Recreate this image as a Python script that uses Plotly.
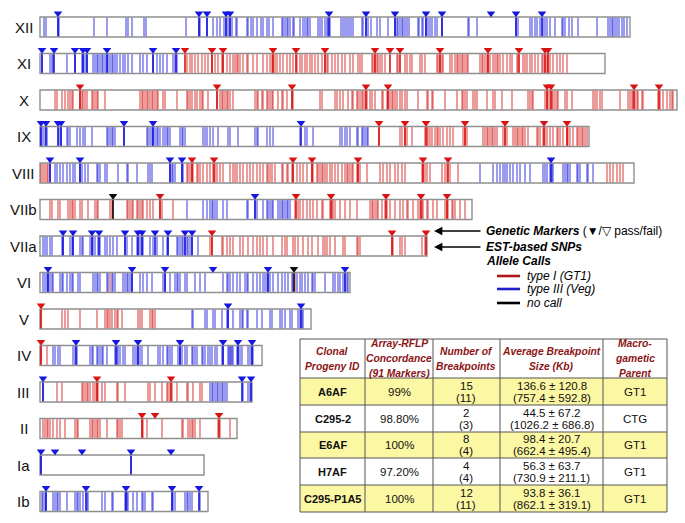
import plotly.graph_objects as go

# ---------------- data ----------------
# chromosome names (top to bottom) and lengths in map units (1 unit ~ 11.6 kb)
chrom_names = ["XII", "XI", "X", "IX", "VIII", "VIIb", "VIIa", "VI", "V", "IV", "III", "II", "Ia", "Ib"]
chrom_lengths = [590, 565, 637, 549, 594, 432, 387, 310, 271, 222, 212, 197, 164, 168]

# allele-call segments: (start position, call) ; call "I" = type I (GT1), "III" = type III (Veg)
XII_segments = [(0, "III")]
XI_segments = [(0, "III"), (145, "I")]
X_segments = [(0, "I")]
IX_segments = [(0, "III"), (334, "I")]
VIII_segments = [(0, "I"), (9, "III"), (145, "I"), (430, "III"), (560, "I")]
VIIb_segments = [(0, "I"), (140, "III"), (252, "I")]
VIIa_segments = [(0, "III"), (162, "I")]
VI_segments = [(0, "III"), (69, "I"), (71, "III"), (254, "I"), (256, "III")]
V_segments = [(0, "I"), (140, "III")]
IV_segments = [(0, "I"), (10, "III")]
III_segments = [(0, "III"), (10, "I"), (165, "III")]
II_segments = [(0, "I")]
Ia_segments = [(0, "III")]
Ib_segments = [(0, "III")]

# EST-based SNP positions
XII_snps = [4, 6, 18, 19, 54, 67, 86, 88, 92, 104, 106, 146, 159, 160, 167, 173, 177, 180, 184, 186, 188, 190, 192,
            196, 197, 207, 208, 211, 213, 217, 221, 223, 227, 229, 233, 242, 243, 245, 247, 248, 250, 253, 254, 260,
            263, 265, 267, 268, 270, 278, 280, 282, 285, 287, 288, 290, 301, 303, 305, 307, 309, 311, 313, 322, 323,
            326, 328, 331, 337, 340, 348, 355, 357, 358, 360, 362, 363, 365, 367, 369, 378, 379, 382, 383, 386, 388,
            390, 392, 395, 397, 402, 428, 429, 437, 476, 478, 490, 492, 495, 497, 500, 503, 505, 507, 510, 515, 522,
            523, 525, 529, 532, 538, 557, 568, 570, 572, 573, 575, 577, 579, 582, 584, 587]
XI_snps = [2, 10, 12, 13, 27, 35, 42, 43, 45, 47, 53, 55, 57, 58, 60, 62, 63, 65, 67, 68, 70, 72, 73, 75, 77, 80, 83,
           85, 88, 92, 100, 103, 107, 113, 117, 120, 123, 127, 133, 135, 137,
           147, 150, 152, 155, 158, 162, 165, 168, 172, 175, 178, 182, 183, 187, 190, 193, 195, 197, 198, 200, 203,
           207, 208, 213, 217, 223, 227, 230, 232, 233, 235, 237, 240, 243, 247, 250, 253, 257, 260, 262, 265, 267,
           270, 272, 275, 278, 282, 285, 287, 288, 292, 295, 298, 302, 305, 310, 313, 318, 320, 322, 332, 333, 335,
           337, 338, 340, 342, 345, 357, 358, 365, 367, 370, 372, 380, 382, 385, 397, 398, 400, 402, 403, 410, 412,
           415, 417, 418, 420, 422, 423, 425, 427, 428, 440, 442, 443, 445, 447, 448, 450, 453, 455, 457, 458, 460,
           463, 467, 470, 472, 477, 478, 483, 485, 487, 490, 492, 495, 498, 502, 503, 505, 507, 508, 510, 513, 517,
           520, 523, 527]
X_snps = [15, 17, 22, 25, 28, 30, 32, 33, 40, 42, 43, 45, 47, 52, 53, 55, 57, 58, 65, 100, 102, 103, 105, 107, 108,
          110, 112, 113, 115, 117, 118, 123, 125, 137, 147, 148, 150, 152, 155, 157, 160, 162, 163, 168, 177, 180,
          182, 183, 185, 187, 188, 190, 193, 215, 217, 218, 222, 223, 227, 228, 230, 232, 233, 238, 242, 243, 247,
          252, 253, 280, 282, 295, 297, 300, 303, 308, 312, 313, 317, 318, 320, 322, 323, 325, 327, 330, 332, 335,
          342, 343, 347, 348, 350, 352, 353, 355, 357, 360, 362, 365, 367, 378, 387, 388, 392, 393, 405, 417, 422,
          423, 425, 427, 433, 435, 437, 447, 453, 455, 462, 472, 488, 490, 492, 493, 505, 507, 508, 510, 512, 513,
          515, 517, 518, 525, 527, 532, 553, 555, 557, 560, 562, 580, 588, 590, 592, 593, 595, 597, 598, 602, 603,
          618, 620, 623, 627, 630, 632, 633]
IX_snps = [1, 3, 5, 7, 19, 21, 27, 28, 30, 37, 40, 43, 45, 52, 67, 68, 70, 72, 73, 75, 84, 107, 108, 110, 112, 113,
           115, 117, 118, 120, 123, 125, 127, 128, 130, 140, 142, 143, 145, 163, 165, 167, 170, 173, 178, 188, 190,
           198, 215, 217, 218, 227, 230, 233, 260, 265, 267, 273, 300, 302, 305, 307, 310, 317, 318, 322, 323, 325,
           327, 328,
           339, 360, 362, 365, 367, 372, 385, 387, 388, 390, 392, 395, 397, 398, 400, 403, 407, 410, 413, 423, 425,
           427, 443, 445, 447, 448, 450, 452, 453, 455, 457, 463, 465, 467, 473, 475, 477, 478, 480, 482, 483, 485,
           488, 497, 498, 500, 503, 505, 507, 510, 513, 517, 518, 520, 523, 527, 528, 530, 533, 537, 538, 540, 542,
           543, 545, 547]
VIII_snps = [1, 3, 5, 7, 8,
             10, 15, 17, 20, 23, 27, 30, 33, 35, 40, 42, 45, 48, 57, 58, 60, 65, 67, 78, 87, 88, 97, 108, 110, 112,
             130, 132, 133, 135, 142, 143,
             147, 148, 150, 152, 153, 157, 158, 160, 163, 167, 170, 173, 175, 177, 180, 183, 190, 193, 195, 197, 200,
             203, 207, 210, 213, 217, 220, 223, 227, 228, 230, 232, 235, 242, 243, 247, 248, 252, 253, 257, 260, 263,
             267, 272, 273, 277, 278, 280, 282, 283, 285, 287, 290, 292, 295, 298, 302, 305, 307, 308, 310, 312, 313,
             317, 318, 320, 327, 340, 343, 347, 350, 355, 358, 362, 365, 382, 383, 385, 387, 390, 402, 405, 407, 410,
             418,
             440, 453, 457, 460, 463, 465, 467, 470, 473, 477, 480, 485, 490, 503, 505, 507, 510, 512, 513, 523, 525,
             527, 528, 530, 537, 538, 540, 547, 548, 553,
             567, 570, 573, 577, 580, 583]
VIIb_snps = [10, 12, 18, 20, 28, 30, 32, 33, 35, 40, 42, 48, 55, 57, 58, 70, 72, 73, 87, 88, 90, 92, 93, 97, 98, 100,
             102, 103, 107, 110, 113, 120, 122, 133,
             147, 163, 167, 170, 172, 173, 175, 177, 183, 187, 207, 208, 215, 217, 223, 227, 228, 230, 232, 233, 238,
             240, 242, 243, 245, 247, 248, 250,
             255, 258, 260, 263, 267, 270, 273, 277, 282, 283, 290, 292, 293, 295, 300, 305, 310, 317, 330, 332, 333,
             335, 337, 338, 342, 345, 347, 350, 355, 360, 363, 367, 368, 373, 378, 380, 382, 383, 387, 388, 393, 397,
             405, 407, 408, 412, 413, 415, 420, 425]
VIIa_snps = [3, 5, 7, 10, 12, 22, 23, 30, 32, 33, 40, 42, 43, 50, 52, 53, 55, 58, 60, 65, 67, 70, 73, 77, 85, 87, 92,
             97, 98, 100, 102, 103, 110, 113, 117, 123, 127, 128, 137, 138, 140, 142, 143, 145, 147, 148, 150, 152,
             158,
             170, 172, 182, 183, 187, 190, 193, 200, 203, 208, 213, 217, 220, 223, 227, 233, 242, 245, 247, 253, 255,
             258, 263, 268, 272, 278, 283, 285, 287, 290, 295, 303, 305, 317, 318, 320, 352, 353, 360, 362, 365, 382,
             385]
VI_snps = [3, 5, 7, 8, 10, 12, 13, 20, 22, 23, 27, 30, 32, 33, 38, 40, 53, 55, 57, 58, 60, 67, 68, 70, 72, 73, 75, 83,
           85, 87, 88, 90, 92, 100, 103, 107, 112, 123, 125, 130, 135, 137, 138, 140, 145, 147, 155, 160, 165, 183,
           187, 188, 190, 193, 197, 200, 205, 207, 208, 213, 217, 220, 223, 225, 227, 228, 230, 233, 238, 242, 245,
           248, 252, 253, 255, 257, 260, 262, 265, 268, 272, 273, 275, 285, 293, 295, 298, 300, 303, 305, 307, 308]
V_snps = [1, 22, 25, 28, 40, 57, 65, 67, 68, 70, 72, 75, 77, 78, 82, 98, 100, 102, 110, 112, 113, 115,
          152, 153, 165, 167, 173, 175, 182, 187, 188, 193, 200, 202, 203, 207, 208, 217, 222, 230, 232, 240, 242,
          245, 250, 252, 258, 260, 262, 263]
IV_snps = [1, 7, 13, 15, 18, 20, 33, 35, 37, 50, 52, 53, 57, 58, 60, 62, 63, 67, 75, 77, 78, 80, 83, 85, 93, 95, 97,
           98, 100, 102, 108, 118, 120, 123, 127, 128, 130, 132, 138, 140, 142, 145, 147, 152, 153, 155, 157, 162,
           163, 165, 168, 170, 172, 175, 177, 182, 183, 188, 189, 190, 191, 192, 193, 197, 198, 200, 202, 208, 210,
           212, 213]
III_snps = [3, 17, 22, 42, 43, 45, 47, 48, 50, 53, 55, 57, 58, 62, 65, 77, 78, 85, 108, 110, 115, 122, 127, 128, 130,
            132, 137, 147, 148, 153, 160, 162, 170, 172, 173, 175, 177, 178, 180, 182, 183, 185, 187, 203, 208, 210]
II_snps = [3, 5, 7, 8, 10, 13, 17, 20, 25, 35, 37, 38, 50, 52, 53, 55, 57, 58, 60, 67, 77, 78, 80, 82, 102, 103, 107,
           122, 142, 143, 148, 150, 152, 153, 155, 160, 178, 180, 190]
Ia_snps = [1, 91]
Ib_snps = [2, 3, 5, 6, 13, 15, 17, 18, 20, 27, 35, 37, 38, 40, 43, 47, 48, 62, 65, 72, 73, 85, 86, 87, 88, 93, 97, 102,
           103, 105, 112, 113, 132, 133, 135, 145, 147, 148, 150, 152, 160]

# genetic markers: (position, call, has_line)  call "N" = no call
XII_markers = [(18, "III", 1), (159, "III", 1), (167, "III", 1), (186, "III", 1), (190, "III", 1), (289, "III", 1),
               (326, "III", 1), (355, "III", 1), (386, "III", 1), (402, "III", 1), (451, "III", 0), (476, "III", 1),
               (502, "III", 1)]
XI_markers = [(2, "III", 1), (14, "III", 1), (35, "III", 1), (43, "III", 1), (47, "III", 1), (67, "III", 1),
              (113, "III", 1), (136, "III", 1), (145, "I", 1), (172, "I", 1), (183, "I", 1), (233, "I", 1),
              (256, "I", 1), (285, "I", 1), (335, "I", 1), (350, "I", 1), (360, "I", 1), (400, "I", 1),
              (448, "I", 1), (479, "I", 1), (505, "I", 1), (508, "I", 1)]
X_markers = [(40, "I", 1), (177, "I", 1), (252, "I", 1), (326, "I", 1), (348, "I", 1), (507, "I", 1), (511, "I", 1),
             (594, "I", 1), (619, "I", 1)]
IX_markers = [(1, "III", 1), (6, "III", 1), (18, "III", 1), (21, "III", 1), (84, "III", 1), (113, "III", 1),
              (261, "III", 1), (339, "I", 1), (365, "I", 1), (386, "I", 1), (425, "I", 1), (465, "I", 1),
              (504, "I", 1), (527, "I", 1)]
VIII_markers = [(10, "III", 1), (40, "III", 1), (130, "III", 1), (142, "III", 1), (152, "I", 1), (174, "I", 1),
                (253, "I", 1), (272, "I", 1), (318, "I", 1), (383, "I", 1), (408, "I", 1), (511, "III", 1)]
VIIb_markers = [(73, "N", 1), (120, "I", 1), (215, "III", 1), (256, "I", 1), (291, "I", 1), (346, "I", 1),
                (381, "I", 1), (407, "I", 1)]
VIIa_markers = [(23, "III", 1), (33, "III", 1), (52, "III", 1), (59, "III", 1), (85, "III", 1), (98, "III", 1),
                (102, "III", 1), (115, "III", 1), (128, "III", 1), (145, "III", 1), (152, "III", 1), (172, "I", 1),
                (352, "I", 1), (386, "I", 1)]
VI_markers = [(8, "III", 1), (92, "III", 1), (125, "III", 1), (173, "III", 0), (228, "III", 1), (254, "N", 1),
              (305, "III", 1)]
V_markers = [(1, "I", 1), (188, "III", 1), (261, "III", 1)]
IV_markers = [(1, "I", 1), (36, "III", 1), (76, "III", 1), (98, "III", 1), (140, "III", 1), (183, "III", 1),
              (198, "III", 1), (212, "III", 1)]
III_markers = [(3, "III", 1), (57, "I", 1), (131, "I", 1), (202, "III", 1), (211, "III", 1)]
II_markers = [(102, "I", 1), (115, "I", 0), (179, "I", 1)]
Ia_markers = [(1, "III", 1), (15, "III", 0), (42, "III", 0), (91, "III", 1), (131, "III", 0)]
Ib_markers = [(6, "III", 1), (46, "III", 1), (86, "III", 1), (132, "III", 1), (159, "III", 1)]

all_segments = [XII_segments, XI_segments, X_segments, IX_segments, VIII_segments, VIIb_segments, VIIa_segments,
                VI_segments, V_segments, IV_segments, III_segments, II_segments, Ia_segments, Ib_segments]
all_snps = [XII_snps, XI_snps, X_snps, IX_snps, VIII_snps, VIIb_snps, VIIa_snps, VI_snps, V_snps, IV_snps,
            III_snps, II_snps, Ia_snps, Ib_snps]
all_markers = [XII_markers, XI_markers, X_markers, IX_markers, VIII_markers, VIIb_markers, VIIa_markers,
               VI_markers, V_markers, IV_markers, III_markers, II_markers, Ia_markers, Ib_markers]

# table
table_header = [["Clonal", "Progeny ID"], ["Array-RFLP", "Concordance", "(91 Markers)"],
                ["Number of", "Breakpoints"], ["Average Breakpoint", "Size (Kb)"], ["Macro-", "gametic", "Parent"]]
progeny_ids = ["A6AF", "C295-2", "E6AF", "H7AF", "C295-P1A5"]
concordance = ["99%", "98.80%", "100%", "97.20%", "100%"]
n_breakpoints = ["15", "2", "8", "4", "12"]
n_breakpoints_alt = ["(11)", "(3)", "(4)", "(4)", "(11)"]
avg_size = ["136.6 ± 120.8", "44.5 ± 67.2", "98.4 ± 20.7", "56.3 ± 63.7", "93.8 ± 36.1"]
avg_size_alt = ["(757.4 ± 592.8)", "(1026.2 ± 686.8)", "(662.4 ± 495.4)", "(730.9 ± 211.1)", "(862.1 ± 319.1)"]
macro_parent = ["GT1", "CTG", "GT1", "GT1", "GT1"]

# ---------------- styling ----------------
W, H = 685, 523
FONT = "Liberation Sans, Arial, Helvetica, sans-serif"
ROW_PX = 36.5
TOP_PX = 27.0
X0_PX = 40.0
HALF = 10.0 / ROW_PX
LINE_C = {"I": "rgba(212,22,22,0.78)", "III": "rgba(22,22,218,0.78)", "N": "rgba(0,0,0,0.85)"}
SOLID_C = {"I": "rgb(218,18,18)", "III": "rgb(22,22,225)", "N": "rgb(10,10,10)"}


def px2paper_x(p):
    return p / W


def px2paper_y(p):
    return 1 - p / H


def call_at(segs, pos):
    c = segs[0][1]
    for s, t in segs:
        if pos >= s:
            c = t
    return c


fig = go.Figure()
shapes = []
annotations = []

line_x = {"I": [], "III": [], "N": []}
line_y = {"I": [], "III": [], "N": []}
mline_x = {"I": [], "III": [], "N": []}
mline_y = {"I": [], "III": [], "N": []}
mk_x = {"I": [], "III": [], "N": []}
mk_y = {"I": [], "III": [], "N": []}

for i, name in enumerate(chrom_names):
    L = chrom_lengths[i]
    shapes.append(dict(type="rect", xref="x", yref="y", x0=0, x1=L, y0=i - HALF, y1=i + HALF,
                       line=dict(color="#8f8f8f", width=1.4), fillcolor="white", layer="below"))
    annotations.append(dict(x=px2paper_x(23.5), y=i, xref="paper", yref="y", text=name, showarrow=False,
                            xanchor="center", yanchor="middle", font=dict(family=FONT, size=15, color="#111")))
    segs = all_segments[i]
    for p in all_snps[i]:
        c = call_at(segs, p)
        line_x[c] += [p, p, None]
        line_y[c] += [i - HALF + 0.02, i + HALF - 0.02, None]
    for p, c, has_line in all_markers[i]:
        if has_line:
            mline_x[c] += [p, p, None]
            mline_y[c] += [i - HALF + 0.02, i + HALF - 0.02, None]
        mk_x[c].append(p)
        mk_y[c].append(i - HALF - 3.6 / ROW_PX)

for c in ["I", "III", "N"]:
    fig.add_trace(go.Scatter(x=line_x[c], y=line_y[c], mode="lines", line=dict(color=LINE_C[c], width=1.1),
                             hoverinfo="skip", showlegend=False))
for c in ["I", "III", "N"]:
    fig.add_trace(go.Scatter(x=mline_x[c], y=mline_y[c], mode="lines", line=dict(color=SOLID_C[c], width=1.6),
                             hoverinfo="skip", showlegend=False))
for c in ["I", "III", "N"]:
    fig.add_trace(go.Scatter(x=mk_x[c], y=mk_y[c], mode="markers",
                             marker=dict(symbol="triangle-down", size=7.5, color=SOLID_C[c], line=dict(width=0)),
                             hoverinfo="skip", showlegend=False))

# ---------------- legend ----------------
for ty in [231, 247]:
    annotations.append(dict(x=px2paper_x(434), y=px2paper_y(ty), xref="paper", yref="paper", text="",
                            showarrow=True, ax=48, ay=0, arrowhead=2, arrowsize=1.2, arrowwidth=1.4,
                            arrowcolor="black"))
leg_text = [(231, "<b><i>Genetic Markers</i></b> (▼/▽ pass/fail)"),
            (247, "<b><i>EST-based SNPs</i></b>"),
            (261, "<b><i>Allele Calls</i></b>")]
for ty, t in leg_text:
    annotations.append(dict(x=px2paper_x(484), y=px2paper_y(ty), xref="paper", yref="paper", text=t,
                            showarrow=False, xanchor="left", yanchor="middle",
                            font=dict(family=FONT, size=12, color="black")))
leg_items = [(276, "#b01515", "type I (GT1)"), (289, "#2020c8", "type III (Veg)"), (303, "#000000", "no call")]
for ty, col, t in leg_items:
    shapes.append(dict(type="line", xref="paper", yref="paper", x0=px2paper_x(497), x1=px2paper_x(520),
                       y0=px2paper_y(ty), y1=px2paper_y(ty), line=dict(color=col, width=2.6)))
    annotations.append(dict(x=px2paper_x(525), y=px2paper_y(ty), xref="paper", yref="paper", text="<i>" + t + "</i>",
                            showarrow=False, xanchor="left", yanchor="middle",
                            font=dict(family=FONT, size=12, color="black")))

# ---------------- table ----------------
col_px = [300, 365, 433, 500, 603, 667]
row_px = [339, 378, 405, 432, 458, 485, 512]
row_fill = ["#fbf7a2", "white", "#fbf7a2", "white", "#fbf7a2"]
for r in range(5):
    shapes.append(dict(type="rect", xref="paper", yref="paper", x0=px2paper_x(col_px[0]), x1=px2paper_x(col_px[-1]),
                       y0=px2paper_y(row_px[r + 1]), y1=px2paper_y(row_px[r + 2]), fillcolor=row_fill[r],
                       line=dict(width=0), layer="below"))
for yy in row_px:
    shapes.append(dict(type="line", xref="paper", yref="paper", x0=px2paper_x(col_px[0]), x1=px2paper_x(col_px[-1]),
                       y0=px2paper_y(yy), y1=px2paper_y(yy), line=dict(color="#555", width=1)))
for xx in col_px:
    shapes.append(dict(type="line", xref="paper", yref="paper", x0=px2paper_x(xx), x1=px2paper_x(xx),
                       y0=px2paper_y(row_px[0]), y1=px2paper_y(row_px[-1]), line=dict(color="#555", width=1)))


def cell_text(cx, cy, t, bold=False, color="#111", size=11, italic=False):
    s = t
    if italic:
        s = "<i>" + s + "</i>"
    if bold:
        s = "<b>" + s + "</b>"
    annotations.append(dict(x=px2paper_x(cx), y=px2paper_y(cy), xref="paper", yref="paper", text=s,
                            showarrow=False, xanchor="center", yanchor="middle",
                            font=dict(family=FONT, size=size, color=color)))


hc = (row_px[0] + row_px[1]) / 2
for ci, lines in enumerate(table_header):
    cx = (col_px[ci] + col_px[ci + 1]) / 2
    n = len(lines)
    for k, t in enumerate(lines):
        cell_text(cx, hc + (k - (n - 1) / 2) * 15, t, bold=True, italic=True, color="#8b1515", size=10.3)

for r in range(5):
    cy = (row_px[r + 1] + row_px[r + 2]) / 2
    cxs = [(col_px[c] + col_px[c + 1]) / 2 for c in range(5)]
    cell_text(cxs[0], cy, progeny_ids[r], bold=True, size=11)
    cell_text(cxs[1], cy, concordance[r], size=11.5)
    cell_text(cxs[2], cy - 6, n_breakpoints[r], size=11.5)
    cell_text(cxs[2], cy + 6, n_breakpoints_alt[r], size=11.5)
    cell_text(cxs[3], cy - 6, avg_size[r], size=11.5)
    cell_text(cxs[3], cy + 6, avg_size_alt[r], size=11.5)
    cell_text(cxs[4], cy, macro_parent[r], size=11.5)

fig.update_layout(
    width=W, height=H, margin=dict(l=0, r=0, t=0, b=0),
    paper_bgcolor="white", plot_bgcolor="white",
    xaxis=dict(range=[-X0_PX, W - X0_PX], visible=False, fixedrange=True),
    yaxis=dict(range=[(H - TOP_PX) / ROW_PX, -TOP_PX / ROW_PX], visible=False, fixedrange=True),
    shapes=shapes, annotations=annotations, showlegend=False,
)

fig.write_html("out.html", config={"displayModeBar": False},
               post_script="document.body.style.margin='0';document.body.style.overflow='hidden';")
